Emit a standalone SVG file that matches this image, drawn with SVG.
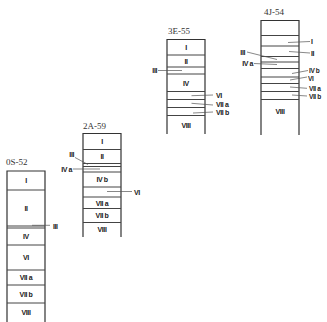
<svg xmlns="http://www.w3.org/2000/svg" width="327" height="322" viewBox="0 0 327 322">
<style>
.bx{fill:none;stroke:#333;stroke-width:1.2}
.ln{stroke:#444;stroke-width:1}
.ld{stroke:#555;stroke-width:0.7;fill:none}
.lb{font-family:"Liberation Sans",Arial,sans-serif;font-size:7px;font-weight:bold;fill:#1a1a1a;letter-spacing:-0.4px}
.sm{font-size:6.5px}
.c{text-anchor:middle}
.r{text-anchor:end}
.hd{font-family:"Liberation Serif",serif;font-size:9px;fill:#333}
</style>
<rect width="327" height="322" fill="#fff"/>
<g id="col-0S-52">
<text class="hd" x="6" y="165">0S-52</text>
<path class="bx" d="M7,322 V171 H45 V322"/>
<path class="ln" d="M7,190H45M7,226H45M7,228H45M7,245H45M7,270H45M7,285H45M7,303H45"/>
<text class="lb c" x="26" y="183">I</text>
<text class="lb c" x="26" y="211">II</text>
<text class="lb c" x="26" y="239">IV</text>
<text class="lb c" x="26" y="260">VI</text>
<text class="lb c" x="26" y="280">VII a</text>
<text class="lb c" x="26" y="297">VII b</text>
<text class="lb c" x="26" y="315">VIII</text>
<text class="lb" x="53" y="228.5">III</text>
</g>
<g id="col-2A-59">
<text class="hd" x="83" y="129">2A-59</text>
<path class="bx" d="M83,237 V133.5 H121 V237"/>
<path class="ln" d="M83,149.5H121M83,163.5H121M83,166.5H121M83,172H121M83,187H121M83,197H121M83,208.5H121M83,222.5H121"/>
<text class="lb c" x="102" y="144">I</text>
<text class="lb c" x="102" y="159">II</text>
<text class="lb c" x="102" y="182">IV b</text>
<text class="lb c" x="102" y="205.5">VII a</text>
<text class="lb c" x="102" y="218">VII b</text>
<text class="lb c" x="102" y="232">VIII</text>
<text class="lb r" x="74" y="157">III</text>
<text class="lb r" x="72" y="171.5">IV a</text>
<text class="lb" x="134" y="194.5">VI</text>
</g>
<g id="col-3E-55">
<text class="hd" x="168" y="34">3E-55</text>
<path class="bx" d="M167,134 V39.5 H205 V134"/>
<path class="ln" d="M167,55H205M167,67H205M167,74H205M167,91.5H205M167,99.5H205M167,107.5H205M167,115.5H205"/>
<text class="lb c" x="186" y="50">I</text>
<text class="lb c" x="186" y="64">II</text>
<text class="lb c" x="186" y="86">IV</text>
<text class="lb c" x="186" y="128">VIII</text>
<text class="lb r" x="157" y="73">III</text>
<text class="lb" x="216" y="97.5">VI</text>
<text class="lb" x="216" y="106.5">VII a</text>
<text class="lb" x="216" y="115">VII b</text>
</g>
<g id="col-4J-54">
<text class="hd" x="264" y="15">4J-54</text>
<path class="bx" d="M261,135 V20.5 H299 V135"/>
<path class="ln" d="M261,35.5H299M261,46H299M261,56.5H299M261,62H299M261,68.5H299M261,77H299M261,83.5H299M261,91.5H299M261,99.5H299"/>
<text class="lb c" x="280" y="114">VIII</text>
<text class="lb" x="311" y="43.5">I</text>
<text class="lb" x="311" y="55.5">II</text>
<text class="lb r" x="245" y="55">III</text>
<text class="lb r" x="253" y="66">IV a</text>
<text class="lb sm" x="309" y="72.5">IV b</text>
<text class="lb sm" x="308" y="80.5">VI</text>
<text class="lb sm" x="309" y="90.5">VII a</text>
<text class="lb sm" x="309" y="99">VII b</text>
</g>
<g id="connectors">
<path class="ld" d="M32,225.3H50"/>
<path class="ld" d="M75,157.5L88,164.5"/>
<path class="ld" d="M73,169H100"/>
<path class="ld" d="M107,191.5H132"/>
<path class="ld" d="M158,70.5H182"/>
<path class="ld" d="M191.5,95.7L213,95"/>
<path class="ld" d="M191.5,103.3L213,105"/>
<path class="ld" d="M193,113L213,112"/>
<path class="ld" d="M288,42.5L310,41.5"/>
<path class="ld" d="M289,51.5L310,53"/>
<path class="ld" d="M247,52L277,59.5"/>
<path class="ld" d="M254,63.5L277,64.5"/>
<path class="ld" d="M292,73.5L308,70.5"/>
<path class="ld" d="M290,80L307,77"/>
<path class="ld" d="M290,87L307,88.3"/>
<path class="ld" d="M292,95L307,96"/>
</g>
</svg>
